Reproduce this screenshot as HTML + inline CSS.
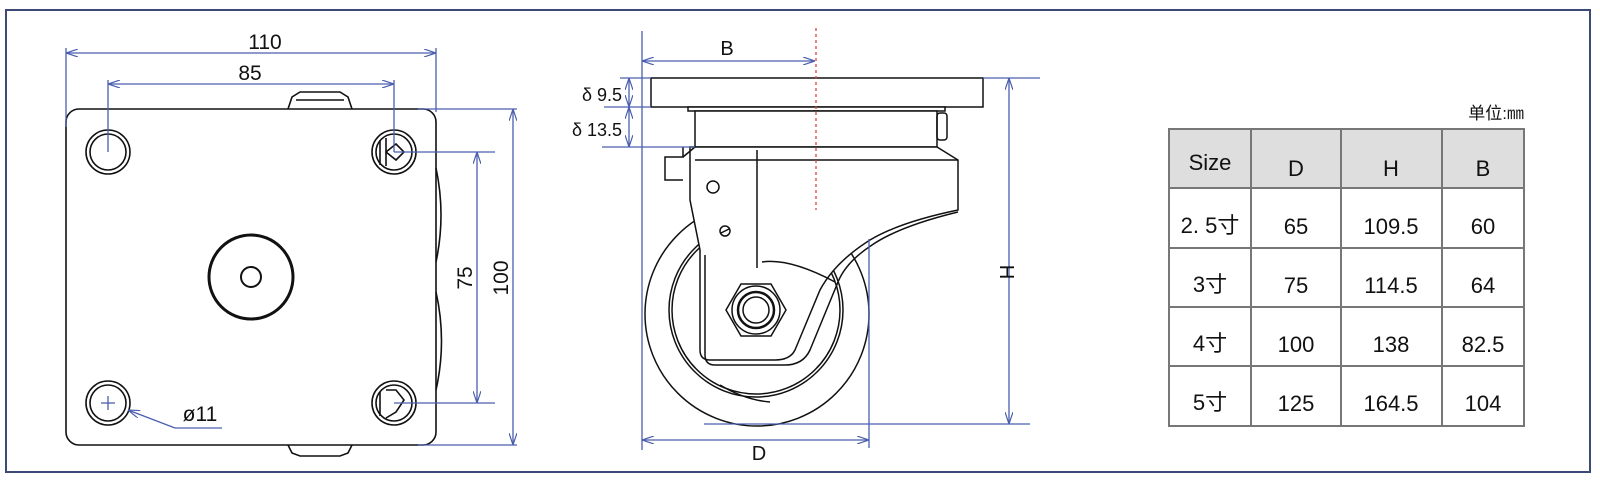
<!DOCTYPE html>
<html><head><meta charset="utf-8"><style>
html,body{margin:0;padding:0;background:#fff;}
svg{display:block;}
text{font-family:"Liberation Sans","Noto Sans CJK SC",sans-serif;}
</style></head><body>
<svg width="1600" height="483" viewBox="0 0 1600 483" xmlns="http://www.w3.org/2000/svg">
<defs>
<marker id="a" viewBox="0 0 12 8" refX="12" refY="4" markerWidth="12" markerHeight="8" orient="auto-start-reverse" markerUnits="userSpaceOnUse">
<path d="M0,0 L12,4 L0,8" fill="none" stroke="#4a5fae" stroke-width="1.2"/></marker>
</defs>
<rect x="6" y="10" width="1584" height="462" fill="#fff" stroke="#3d4a78" stroke-width="2"/>

<!-- LEFT: top view plate -->
<g fill="none" stroke="#111" stroke-width="1.6">
<path d="M288,109 L292,97 L300,92 L340,92 L348,97 L352,109"/>
<path d="M296,100 L344,100"/>
<path d="M288,445 L292,453 L300,456 L340,456 L348,453 L352,445"/>
<rect x="66" y="109" width="370" height="336" rx="13"/>
<path d="M436,168 Q446,215 436,262"/>
<path d="M436,292 Q447,341 436,390"/>
<circle cx="108" cy="152" r="22"/><circle cx="108" cy="152" r="18"/>
<circle cx="394" cy="152" r="22"/><circle cx="394" cy="152" r="18"/>
<circle cx="108" cy="403" r="22"/><circle cx="108" cy="403" r="18"/>
<circle cx="394" cy="403" r="22"/><circle cx="394" cy="403" r="18"/>
<path d="M380,140 L380,165 M386,138 L386,166 M386,152 L396,144 L404,152 L396,160 Z"/>
<path d="M380,392 L380,416 M386,390 L396,390 L404,400 L396,412 L386,418"/>
<circle cx="251" cy="277" r="42" stroke-width="3"/>
<circle cx="251" cy="277" r="10" stroke-width="2"/>
</g>
<g stroke="#4a5fae" stroke-width="1.3" fill="none">
<line x1="66" y1="48" x2="66" y2="127"/><line x1="436" y1="48" x2="436" y2="112"/>
<line x1="66" y1="53" x2="436" y2="53" marker-start="url(#a)" marker-end="url(#a)"/>
<line x1="108" y1="80" x2="108" y2="152"/><line x1="394" y1="80" x2="394" y2="152"/>
<line x1="108" y1="84" x2="394" y2="84" marker-start="url(#a)" marker-end="url(#a)"/>
<line x1="394" y1="152" x2="495" y2="152"/><line x1="394" y1="403" x2="495" y2="403"/>
<line x1="477" y1="152" x2="477" y2="403" marker-start="url(#a)" marker-end="url(#a)"/>
<line x1="418" y1="109" x2="517" y2="109"/><line x1="418" y1="445" x2="517" y2="445"/>
<line x1="513" y1="109" x2="513" y2="445" marker-start="url(#a)" marker-end="url(#a)"/>
<line x1="222" y1="428" x2="175" y2="428"/>
<line x1="175" y1="428" x2="128" y2="410" marker-end="url(#a)"/>
<line x1="101" y1="403" x2="115" y2="403"/><line x1="108" y1="396" x2="108" y2="410"/>
</g>
<g fill="#111" font-size="21">
<text x="265" y="49" text-anchor="middle">110</text>
<text x="250" y="80" text-anchor="middle">85</text>
<text x="200" y="421" text-anchor="middle">ø11</text>
<text transform="translate(472,278) rotate(-90)" text-anchor="middle">75</text>
<text transform="translate(508,278) rotate(-90)" text-anchor="middle">100</text>
</g>

<!-- MIDDLE: side view -->
<g fill="none" stroke="#111" stroke-width="1.5">
<circle cx="757" cy="314" r="112"/>
<circle cx="756" cy="310" r="87"/>
<circle cx="756" cy="310" r="84"/>
<rect x="651" y="78" width="332" height="29" fill="#fff"/>
<rect x="688" y="107" width="257" height="4" fill="#fff"/>
<rect x="695" y="111" width="242" height="36" fill="#fff"/>
<rect x="937" y="113" width="10" height="27" rx="3"/>
<path d="M683,147 L683,157 L665,157 L665,180 L683,180" fill="#fff"/>
<path d="M690,147 L937,147 L958,160 L958,210 Q900,222 870,240 Q835,262 820,290 L795,350 Q790,360 775,360 L710,360 Q700,360 700,350 L700,250 L690,200 Z" fill="#fff"/>
<path d="M683,157 L695,147"/>
<path d="M695,160 L958,160"/>
<path d="M958,212 Q900,226 872,245 Q846,262 838,282 L810,350 Q803,365 785,365 L715,365 Q705,365 705,355 L705,255"/>
<line x1="757" y1="150" x2="757" y2="268"/>
<path d="M762,262 Q790,258 835,282"/>
<circle cx="713" cy="187" r="6"/>
<circle cx="725" cy="231" r="5"/><line x1="721" y1="233" x2="729" y2="229"/>
<path d="M720,385 Q745,400 770,402"/>
<polygon points="786,310 771,336 741,336 726,310 741,284 771,284" fill="#fff"/>
<circle cx="756" cy="310" r="24"/>
<circle cx="756" cy="310" r="18" stroke-width="2.5"/>
<circle cx="756" cy="310" r="13"/>
</g>
<line x1="816" y1="28" x2="816" y2="210" stroke="#e0403a" stroke-width="1.3" stroke-dasharray="3,3"/>
<g stroke="#4a5fae" stroke-width="1.3" fill="none">
<line x1="642" y1="31" x2="642" y2="450"/>
<line x1="642" y1="61" x2="815" y2="61" marker-start="url(#a)" marker-end="url(#a)"/>
<line x1="620" y1="78" x2="651" y2="78"/>
<line x1="604" y1="107" x2="651" y2="107"/>
<line x1="602" y1="147" x2="695" y2="147"/>
<line x1="629" y1="78" x2="629" y2="107" marker-start="url(#a)" marker-end="url(#a)"/>
<line x1="629" y1="107" x2="629" y2="147" marker-start="url(#a)" marker-end="url(#a)"/>
<line x1="983" y1="78" x2="1040" y2="78"/>
<line x1="704" y1="424" x2="1030" y2="424"/>
<line x1="1009" y1="78" x2="1009" y2="424" marker-start="url(#a)" marker-end="url(#a)"/>
<line x1="869" y1="239" x2="869" y2="448"/>
<line x1="642" y1="440" x2="869" y2="440" marker-start="url(#a)" marker-end="url(#a)"/>
</g>
<g fill="#111" font-size="18">
<text x="622" y="101" text-anchor="end">δ 9.5</text>
<text x="622" y="136" text-anchor="end">δ 13.5</text>
<text x="727" y="55" text-anchor="middle" font-size="20">B</text>
<text x="759" y="460" text-anchor="middle" font-size="20">D</text>
<text transform="translate(1000,272) rotate(90)" text-anchor="middle" font-size="20">H</text>
</g>

<!-- TABLE -->
<rect x="1169" y="129" width="355" height="59" fill="#dedede"/>
<g stroke="#777" stroke-width="2" fill="none">
<rect x="1169" y="129" width="355" height="297"/>
<line x1="1169" y1="188" x2="1524" y2="188"/>
<line x1="1169" y1="248" x2="1524" y2="248"/>
<line x1="1169" y1="307" x2="1524" y2="307"/>
<line x1="1169" y1="366" x2="1524" y2="366"/>
<line x1="1251" y1="129" x2="1251" y2="426"/>
<line x1="1341" y1="129" x2="1341" y2="426"/>
<line x1="1442" y1="129" x2="1442" y2="426"/>
</g>
<g fill="#111" font-size="22" text-anchor="middle">
<text x="1524" y="119" text-anchor="end" font-size="17">单位:㎜</text>
<text x="1210" y="170">Size</text>
<text x="1296" y="176">D</text>
<text x="1391" y="176">H</text>
<text x="1483" y="176">B</text>
<text x="1210" y="233">2. 5寸</text><text x="1296" y="234">65</text><text x="1391" y="234">109.5</text><text x="1483" y="234">60</text>
<text x="1210" y="292">3寸</text><text x="1296" y="293">75</text><text x="1391" y="293">114.5</text><text x="1483" y="293">64</text>
<text x="1210" y="351">4寸</text><text x="1296" y="352">100</text><text x="1391" y="352">138</text><text x="1483" y="352">82.5</text>
<text x="1210" y="410">5寸</text><text x="1296" y="411">125</text><text x="1391" y="411">164.5</text><text x="1483" y="411">104</text>
</g>
</svg>
</body></html>
